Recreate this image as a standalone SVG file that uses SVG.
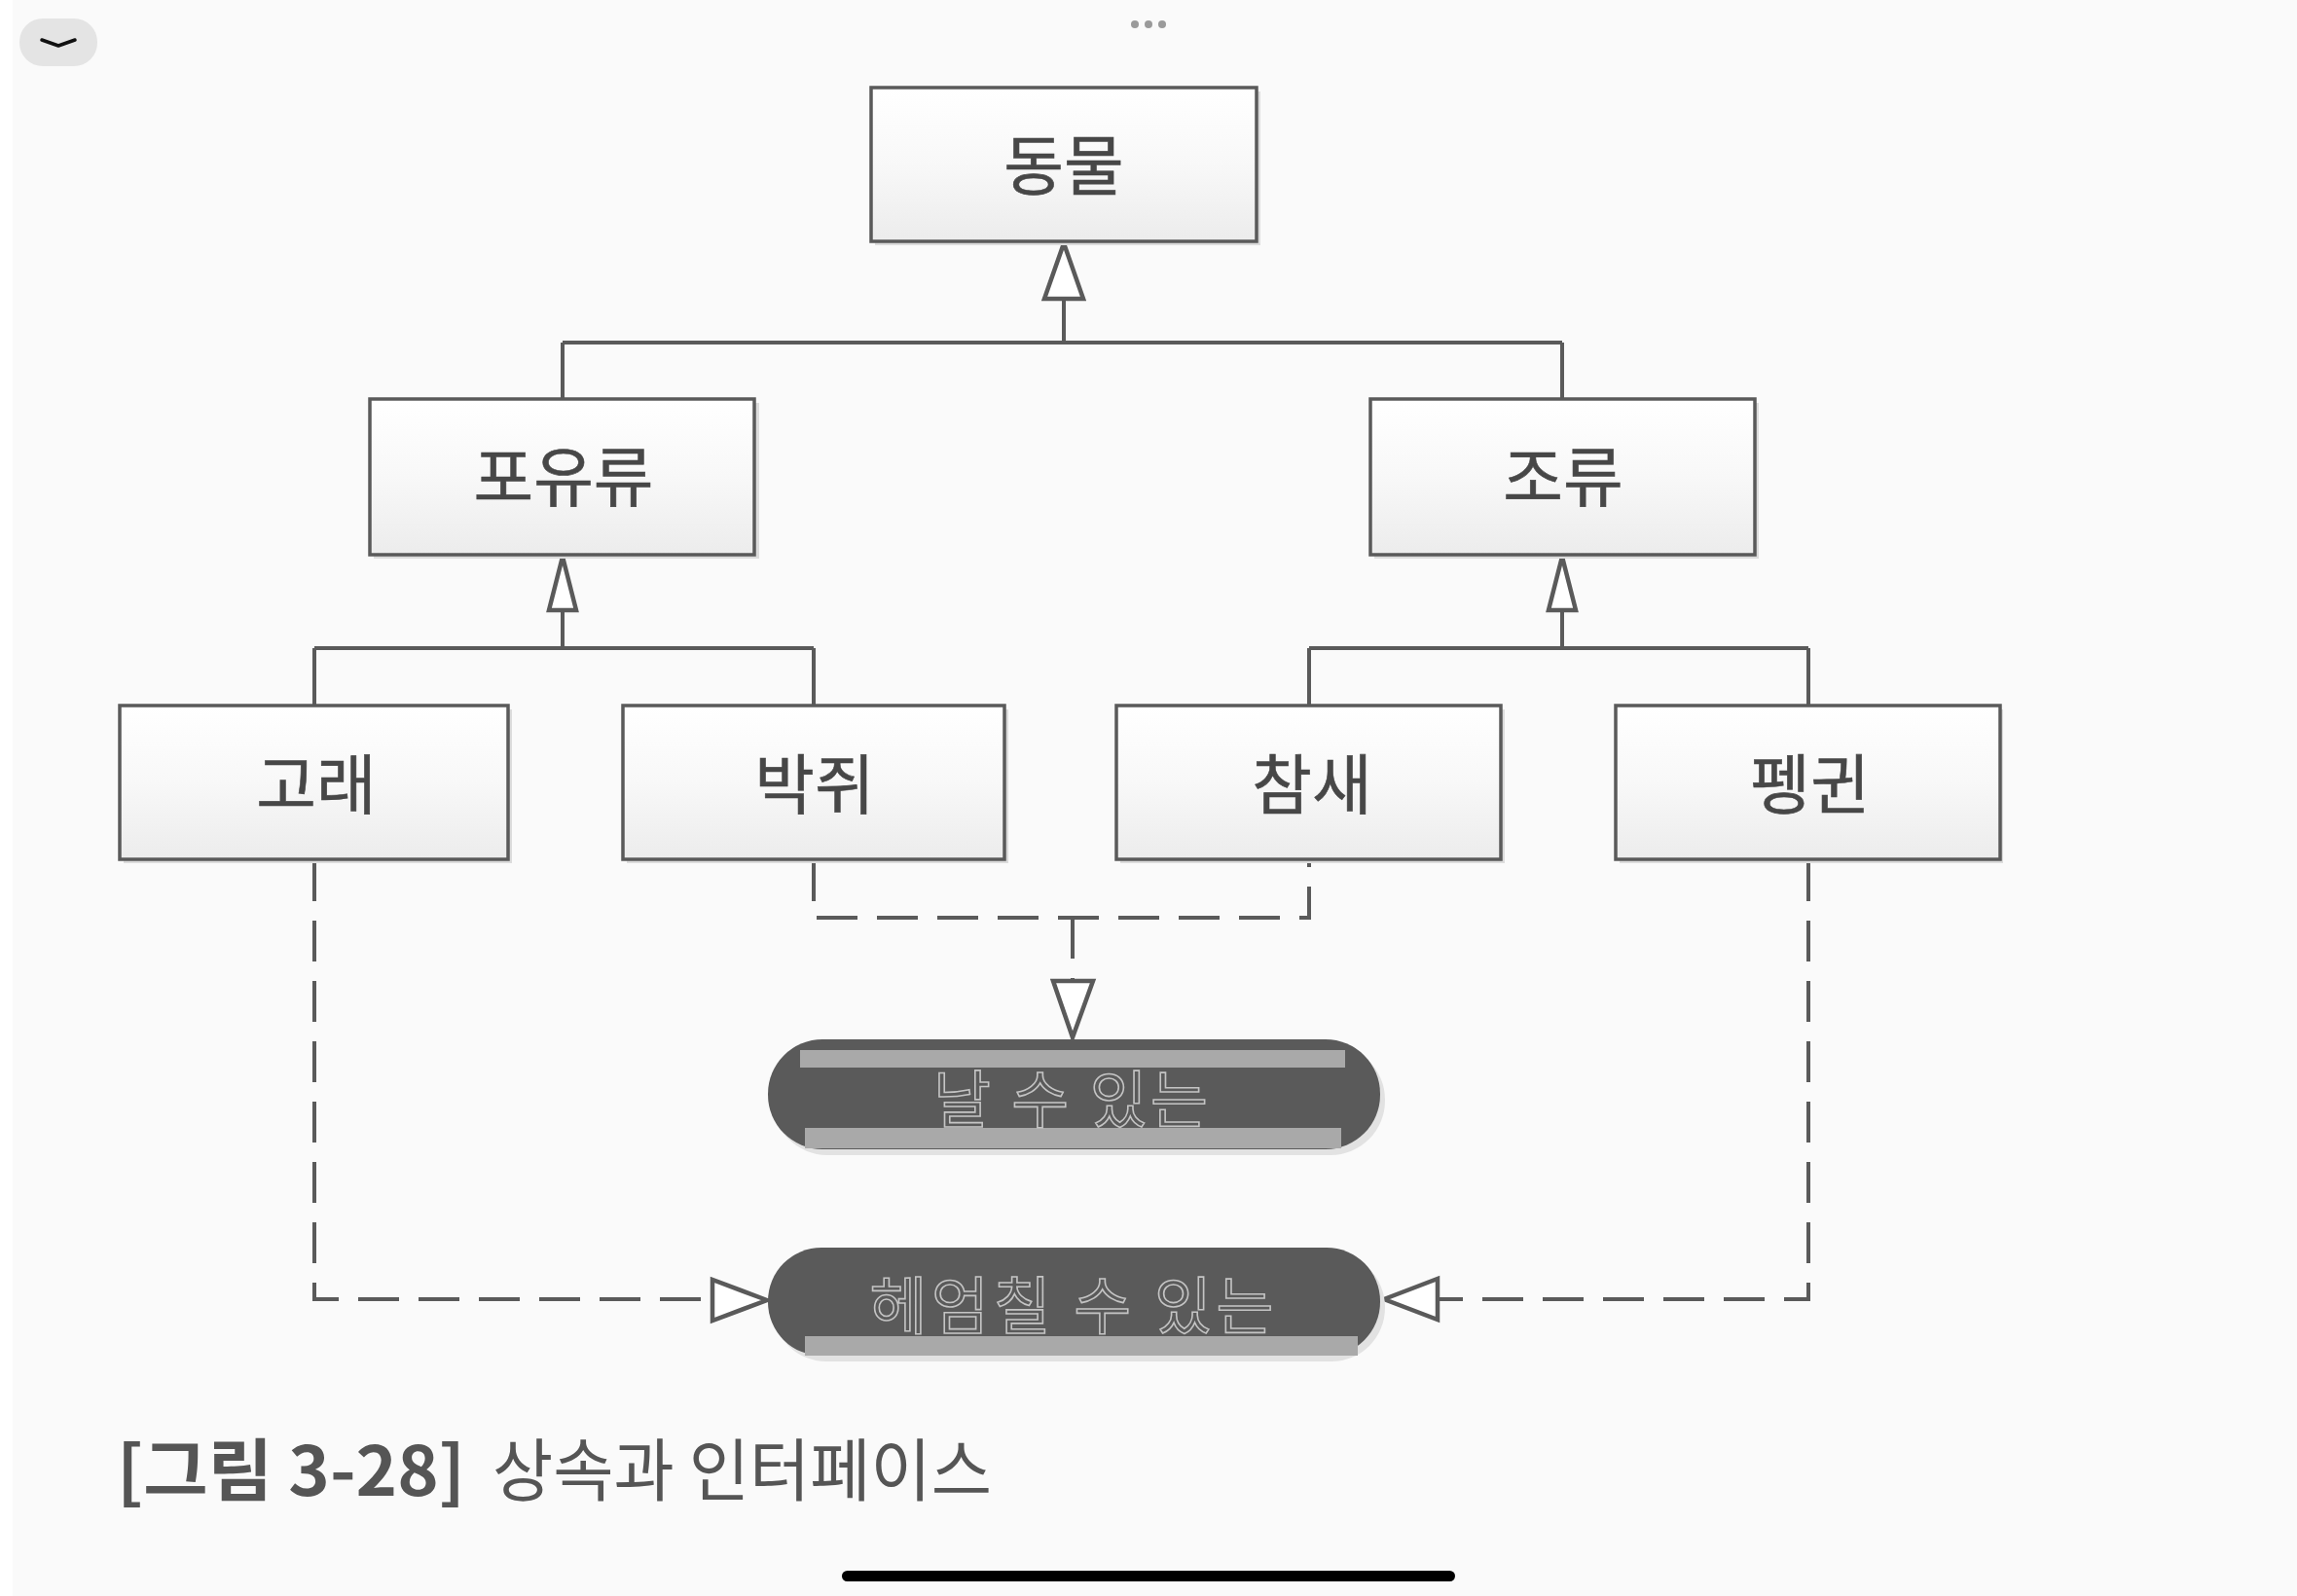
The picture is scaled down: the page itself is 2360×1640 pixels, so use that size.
<svg xmlns="http://www.w3.org/2000/svg" width="2360" height="1640" viewBox="0 0 2360 1640">
  <style>
    .box { fill: url(#boxGrad); stroke: #5a5a5a; stroke-width: 3.5; }
    .shadow { fill: #dcdcdc; }
    .label { font-family: "Noto Sans CJK KR", "Noto Sans", sans-serif; font-size: 67px; fill: #474747; stroke: #474747; stroke-width: 0.6; text-anchor: middle; }
    .solid { fill: none; stroke: #5a5a5a; stroke-width: 4; }
    .dash { fill: none; stroke: #5a5a5a; stroke-width: 4; stroke-dasharray: 42 20; }
    .tri { fill: #ffffff; stroke: #5a5a5a; stroke-width: 4.5; stroke-linejoin: miter; }
    .pill { fill: #5a5a5a; }
    .stripe { fill: #a9a9a9; }
    .pilltext { font-family: "Noto Sans CJK KR", "Noto Sans", sans-serif; font-size: 64px; fill: #5a5a5a; stroke: #c4c4c4; stroke-width: 1.6; text-anchor: middle; }
    .caption { font-family: "Noto Sans CJK KR", "Noto Sans", sans-serif; font-size: 70px; fill: #555555; }
  </style>
  <defs>
    <linearGradient id="boxGrad" x1="0" y1="0" x2="0" y2="1">
      <stop offset="0" stop-color="#ffffff"/>
      <stop offset="0.5" stop-color="#f8f8f8"/>
      <stop offset="1" stop-color="#ececec"/>
    </linearGradient>
  </defs>

  <rect x="0" y="0" width="2360" height="1640" fill="#fafafa"/>
  <rect x="0" y="0" width="13" height="1640" fill="#ffffff"/>

  <!-- UI chrome -->
  <g id="ui-collapse">
    <rect x="20" y="19" width="80" height="49" rx="24" fill="#e4e4e4"/>
    <polyline points="43,41 60,47 77,41" fill="none" stroke="#111" stroke-width="3.5" stroke-linecap="round" stroke-linejoin="round"/>
  </g>
  <g id="ui-dots" fill="#9a9a9a">
    <circle cx="1166" cy="25" r="4"/>
    <circle cx="1180" cy="25" r="4"/>
    <circle cx="1194" cy="25" r="4"/>
  </g>
  <rect id="ui-homebar" x="865" y="1614" width="630" height="11" rx="5.5" fill="#000"/>

  <!-- connectors -->
  <g id="connectors">
    <!-- inheritance (solid) -->
    <path class="solid" d="M1093,308 V352 M578,352 H1605 M578,352 V409 M1605,352 V409"/>
    <polygon class="tri" points="1093,250 1073,307 1113,307"/>
    <path class="solid" d="M578,628 V666 M323,666 H836 M323,666 V725 M836,666 V725"/>
    <polygon class="tri" points="578,572 564,627 592,627"/>
    <path class="solid" d="M1605,628 V666 M1345,666 H1858 M1345,666 V725 M1858,666 V725"/>
    <polygon class="tri" points="1605,572 1591,627 1619,627"/>

    <!-- realization (dashed) -->
    <path class="dash" d="M836,884 V943 H1345 V884"/>
    <path class="dash" d="M1102,943 V1008"/>
    <polygon class="tri" points="1102,1066 1082,1008 1123,1008"/>
    <path class="dash" d="M323,884 V1335 H732"/>
    <polygon class="tri" points="788,1336 732,1315 732,1357"/>
    <path class="dash" d="M1858,884 V1335 H1477"/>
    <polygon class="tri" points="1422,1335 1477,1314 1477,1356"/>
  </g>

  <!-- class nodes -->
  <g id="node-animal">
    <rect class="shadow" x="899" y="94" width="396" height="158"/>
    <rect class="box" x="895" y="90" width="396" height="158"/>
    <text class="label" x="1093" y="195">동물</text>
  </g>
  <g id="node-mammal">
    <rect class="shadow" x="384" y="414" width="396" height="160"/>
    <rect class="box" x="380" y="410" width="395" height="160"/>
    <text class="label" x="579" y="515">포유류</text>
  </g>
  <g id="node-bird">
    <rect class="shadow" x="1412" y="414" width="395" height="160"/>
    <rect class="box" x="1408" y="410" width="395" height="160"/>
    <text class="label" x="1606" y="515">조류</text>
  </g>
  <g id="node-whale">
    <rect class="shadow" x="127" y="729" width="399" height="158"/>
    <rect class="box" x="123" y="725" width="399" height="158"/>
    <text class="label" x="325" y="831">고래</text>
  </g>
  <g id="node-bat">
    <rect class="shadow" x="644" y="729" width="392" height="158"/>
    <rect class="box" x="640" y="725" width="392" height="158"/>
    <text class="label" x="837" y="831">박쥐</text>
  </g>
  <g id="node-sparrow">
    <rect class="shadow" x="1151" y="729" width="395" height="158"/>
    <rect class="box" x="1147" y="725" width="395" height="158"/>
    <text class="label" x="1348" y="831">참새</text>
  </g>
  <g id="node-penguin">
    <rect class="shadow" x="1664" y="729" width="394" height="158"/>
    <rect class="box" x="1660" y="725" width="395" height="158"/>
    <text class="label" x="1860" y="831">펭귄</text>
  </g>

  <!-- interface nodes -->
  <g id="node-flyable">
    <rect x="794" y="1074" width="629" height="113" rx="56" fill="#e2e2e2"/>
    <rect class="pill" x="789" y="1068" width="629" height="113" rx="56"/>
    <rect class="stripe" x="822" y="1079" width="560" height="18"/>
    <rect class="stripe" x="827" y="1159" width="551" height="21"/>
    <text class="pilltext" x="1100" y="1153" textLength="282" lengthAdjust="spacing">날 수 있는</text>
  </g>
  <g id="node-swimmable">
    <rect x="794" y="1288" width="629" height="111" rx="55" fill="#e2e2e2"/>
    <rect class="pill" x="789" y="1282" width="629" height="111" rx="55"/>
    <rect class="stripe" x="827" y="1373" width="568" height="20"/>
    <text class="pilltext" x="1101" y="1365" textLength="415" lengthAdjust="spacing">헤엄칠 수 있는</text>
  </g>

  <!-- caption -->
  <text class="caption" y="1537"><tspan x="120" font-weight="bold" textLength="358" lengthAdjust="spacingAndGlyphs">[그림 3-28]</tspan><tspan x="506" textLength="513" lengthAdjust="spacingAndGlyphs">상속과 인터페이스</tspan></text>
</svg>
